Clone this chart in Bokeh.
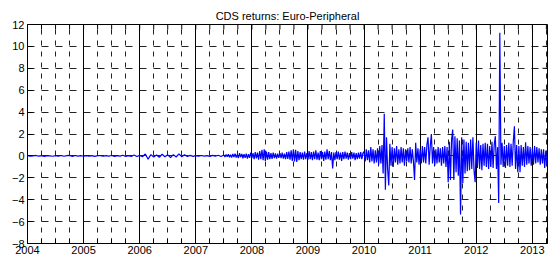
from bokeh.plotting import figure
from bokeh.models import FixedTicker, Grid, Range1d
from bokeh.embed import file_html
from bokeh.resources import INLINE

# ---- data ----
seg_a_start, seg_a_step = 2004.00, 0.05
seg_a = [0.02, -0.03, 0.01, 0.04, -0.02, 0.03, -0.04, 0.02, 0.0, -0.03,
         0.03, -0.02, 0.04, -0.03, 0.02, 0.05, -0.06, 0.04, -0.02, 0.03,
         -0.03, 0.02, -0.02, 0.03, -0.04, 0.02, 0.03, -0.03, 0.02, -0.02,
         0.04, -0.05, 0.03, -0.02, 0.06, -0.04, 0.03, -0.05, 0.08, -0.06,
         0.05, -0.08, 0.18, -0.3, 0.12, -0.1, 0.08, -0.12, 0.15, -0.08,
         0.1, -0.15, 0.12, -0.1, 0.18, -0.08, 0.1, -0.06, 0.05, -0.04,
         0.03, -0.03, 0.04, -0.02, 0.03, -0.04, 0.05, -0.03, 0.06, -0.05]

seg_b_start, seg_b_step = 2007.50, 0.02
seg_b = [0.08, -0.1, 0.12, -0.08, 0.15, -0.12, 0.1, -0.15, 0.18, -0.1,
         0.2, -0.15, 0.12, -0.2, 0.25, -0.12, 0.18, -0.22, 0.15, -0.18,
         0.2, -0.25, 0.15, -0.18, 0.3, -0.2, 0.25, -0.3, 0.35, -0.22,
         0.3, -0.35, 0.45, -0.3, 0.55, -0.4, 0.6, -0.45, 0.4, -0.35,
         0.35, -0.3, 0.25, -0.28, 0.3, -0.2, 0.22, -0.25, 0.2, -0.18,
         0.25, -0.2, 0.3, -0.25, 0.2, -0.3, 0.35, -0.28, 0.4, -0.35,
         0.5, -0.45, 0.6, -0.5, 0.55, -0.55, 0.45, -0.4, 0.35, -0.3,
         0.3, -0.35, 0.4, -0.3, 0.25, -0.35, 0.45, -0.3, 0.35, -0.4,
         0.4, -0.3, 0.5, -0.35, 0.3, -0.4, 0.45, -0.3, 0.35, -0.45,
         0.4, -0.35, 0.6, -0.3, 0.45, -0.4, 0.35, -1.15, 0.3, -0.4,
         0.35, -0.3, 0.4, -0.35, 0.3, -0.45, 0.35, -0.3, 0.4, -0.25,
         0.3, -0.35, 0.25, -0.3, 0.35, -0.25, 0.3, -0.4, 0.25, -0.3,
         0.3, -0.25, 0.35, -0.3, 0.25]

seg_c_start, seg_c_step = 2010.00, 0.02
seg_c = [0.4, -0.5, 0.6, -0.4, 0.5, -0.6, 0.8, -0.5, 0.6, -0.7,
         0.5, -0.6, 0.7, -0.8, 0.9, -0.7, 1.0, -1.6, 3.85, -3.1,
         1.7, -1.2, -2.7, 1.1, -0.9, 0.8, -1.0, 0.7, -0.6, 0.9,
         -0.8, 0.6, -0.7, 0.8, -0.6, 0.7, -0.9, 0.6, -0.5, 0.7,
         -0.6, 0.8, -0.7, 0.6, -0.5, -2.2, 1.2, -0.6, 0.7, -0.8,
         0.6, -0.7, 0.9, -0.6, 0.8, -0.7, 1.0, 1.7, -0.8, 0.9,
         2.0, -0.7, 0.8, -0.9, 0.6, -0.7, 0.8, -0.6, 0.7, -0.9,
         0.8, -0.7, 0.9, -1.0, 0.8, -2.4, 1.3, -2.2, 1.5, 2.4,
         -2.2, 1.8, -1.5, 1.6, -1.8, 1.4, -5.35, 1.7, -2.5, 1.5,
         -1.6, 1.3, -1.4, 1.2, -1.3, 1.5, -1.2, 1.7, -1.3, -2.4,
         1.2, -1.1, 1.4, -1.2, 1.0, -1.3, 1.1, -0.9, 1.2, -1.0,
         1.1, -1.2, 0.9, -1.0, 1.3, -1.1, 1.0, 1.8, -1.2, 0.8,
         -4.3, 11.24, -0.8, 1.2, -1.0, 0.9, -1.1, 1.0, -0.9, 1.2,
         -1.0, 1.1, -0.9, 1.3, 2.7, -1.2, 1.0, -1.5, 0.9, -1.5,
         1.0, -0.9, 0.8, -1.0, 1.25, -0.8, 0.9, -0.7, 0.8, -0.9,
         0.7, -0.8, 0.9, -0.7, 0.8, -0.6, 0.7, -0.8, 0.6, -0.7,
         0.6, -1.1, 0.5, -0.9]

year_ticks = list(range(2004, 2014))
y_ticks = list(range(-8, 13, 2))
title_text = "CDS returns: Euro-Peripheral"

X_MIN, X_MAX = 2004, 2013.27
Y_MIN, Y_MAX = -8, 12

# ---- build series ----
xs, ys = [], []
for start, step, vals in [(seg_a_start, seg_a_step, seg_a),
                          (seg_b_start, seg_b_step, seg_b),
                          (seg_c_start, seg_c_step, seg_c)]:
    for i, v in enumerate(vals):
        xs.append(start + i * step)
        ys.append(v)

quarters = [y + q * 0.25 for y in year_ticks for q in range(4) if y + q * 0.25 <= 2013.26]
quarter_only = [q for q in quarters if q != int(q)]

FONT = "Liberation Sans"
W, H = 549, 262
BL, BR, BT, BB = 27, 2, 24, 19
frame_w = W - BL - BR
frame_h = H - BT - BB
TICK = 5  # px
tick_dy = TICK * (Y_MAX - Y_MIN) / frame_h
tick_dx = TICK * (X_MAX - X_MIN) / frame_w

p = figure(width=W, height=H, output_backend="svg", toolbar_location=None,
           x_range=Range1d(X_MIN, X_MAX), y_range=Range1d(Y_MIN, Y_MAX),
           min_border_left=BL, min_border_right=BR, min_border_top=BT, min_border_bottom=BB,
           background_fill_color="white", border_fill_color="white")

p.title.text = title_text
p.title.align = "center"
p.title.text_font = FONT
p.title.text_font_size = "11px"
p.title.text_font_style = "normal"
p.title.text_color = "black"
p.title.standoff = 5

p.outline_line_color = "black"
p.outline_line_width = 1

# axes
xa = p.xaxis[0]
xa.ticker = FixedTicker(ticks=year_ticks, minor_ticks=quarters)
ya = p.yaxis[0]
ya.ticker = FixedTicker(ticks=y_ticks)
for ax in (xa, ya):
    ax.major_tick_in = TICK
    ax.major_tick_out = 0
    ax.minor_tick_in = TICK if ax is xa else 0
    ax.minor_tick_out = 0
    ax.major_tick_line_color = "black"
    ax.minor_tick_line_color = "black"
    ax.axis_line_color = "black"
    ax.major_label_text_font = FONT
    ax.major_label_text_font_size = "11px"
    ax.major_label_text_color = "black"
    ax.major_label_standoff = 3
xa.major_label_standoff = 2

# grids
p.xgrid.ticker = FixedTicker(ticks=quarter_only)
p.xgrid.grid_line_color = "#222222"
p.xgrid.grid_line_dash = "5 6"
p.xgrid.grid_line_width = 1
p.ygrid.ticker = FixedTicker(ticks=y_ticks)
p.ygrid.grid_line_color = "#222222"
p.ygrid.grid_line_dash = "7 7"
p.ygrid.grid_line_width = 1
p.add_layout(Grid(dimension=0, ticker=FixedTicker(ticks=year_ticks),
                  grid_line_color="black", grid_line_width=1))

# inward ticks on top and right edges
p.segment(x0=quarters, y0=[Y_MAX] * len(quarters), x1=quarters,
          y1=[Y_MAX - tick_dy] * len(quarters), line_color="black", line_width=1)
p.segment(x0=[X_MAX] * len(y_ticks), y0=y_ticks, x1=[X_MAX - tick_dx] * len(y_ticks),
          y1=y_ticks, line_color="black", line_width=1)

p.line(xs, ys, line_color="#0000FF", line_width=1.2)

open("out.html", "w").write(file_html(p, INLINE))
